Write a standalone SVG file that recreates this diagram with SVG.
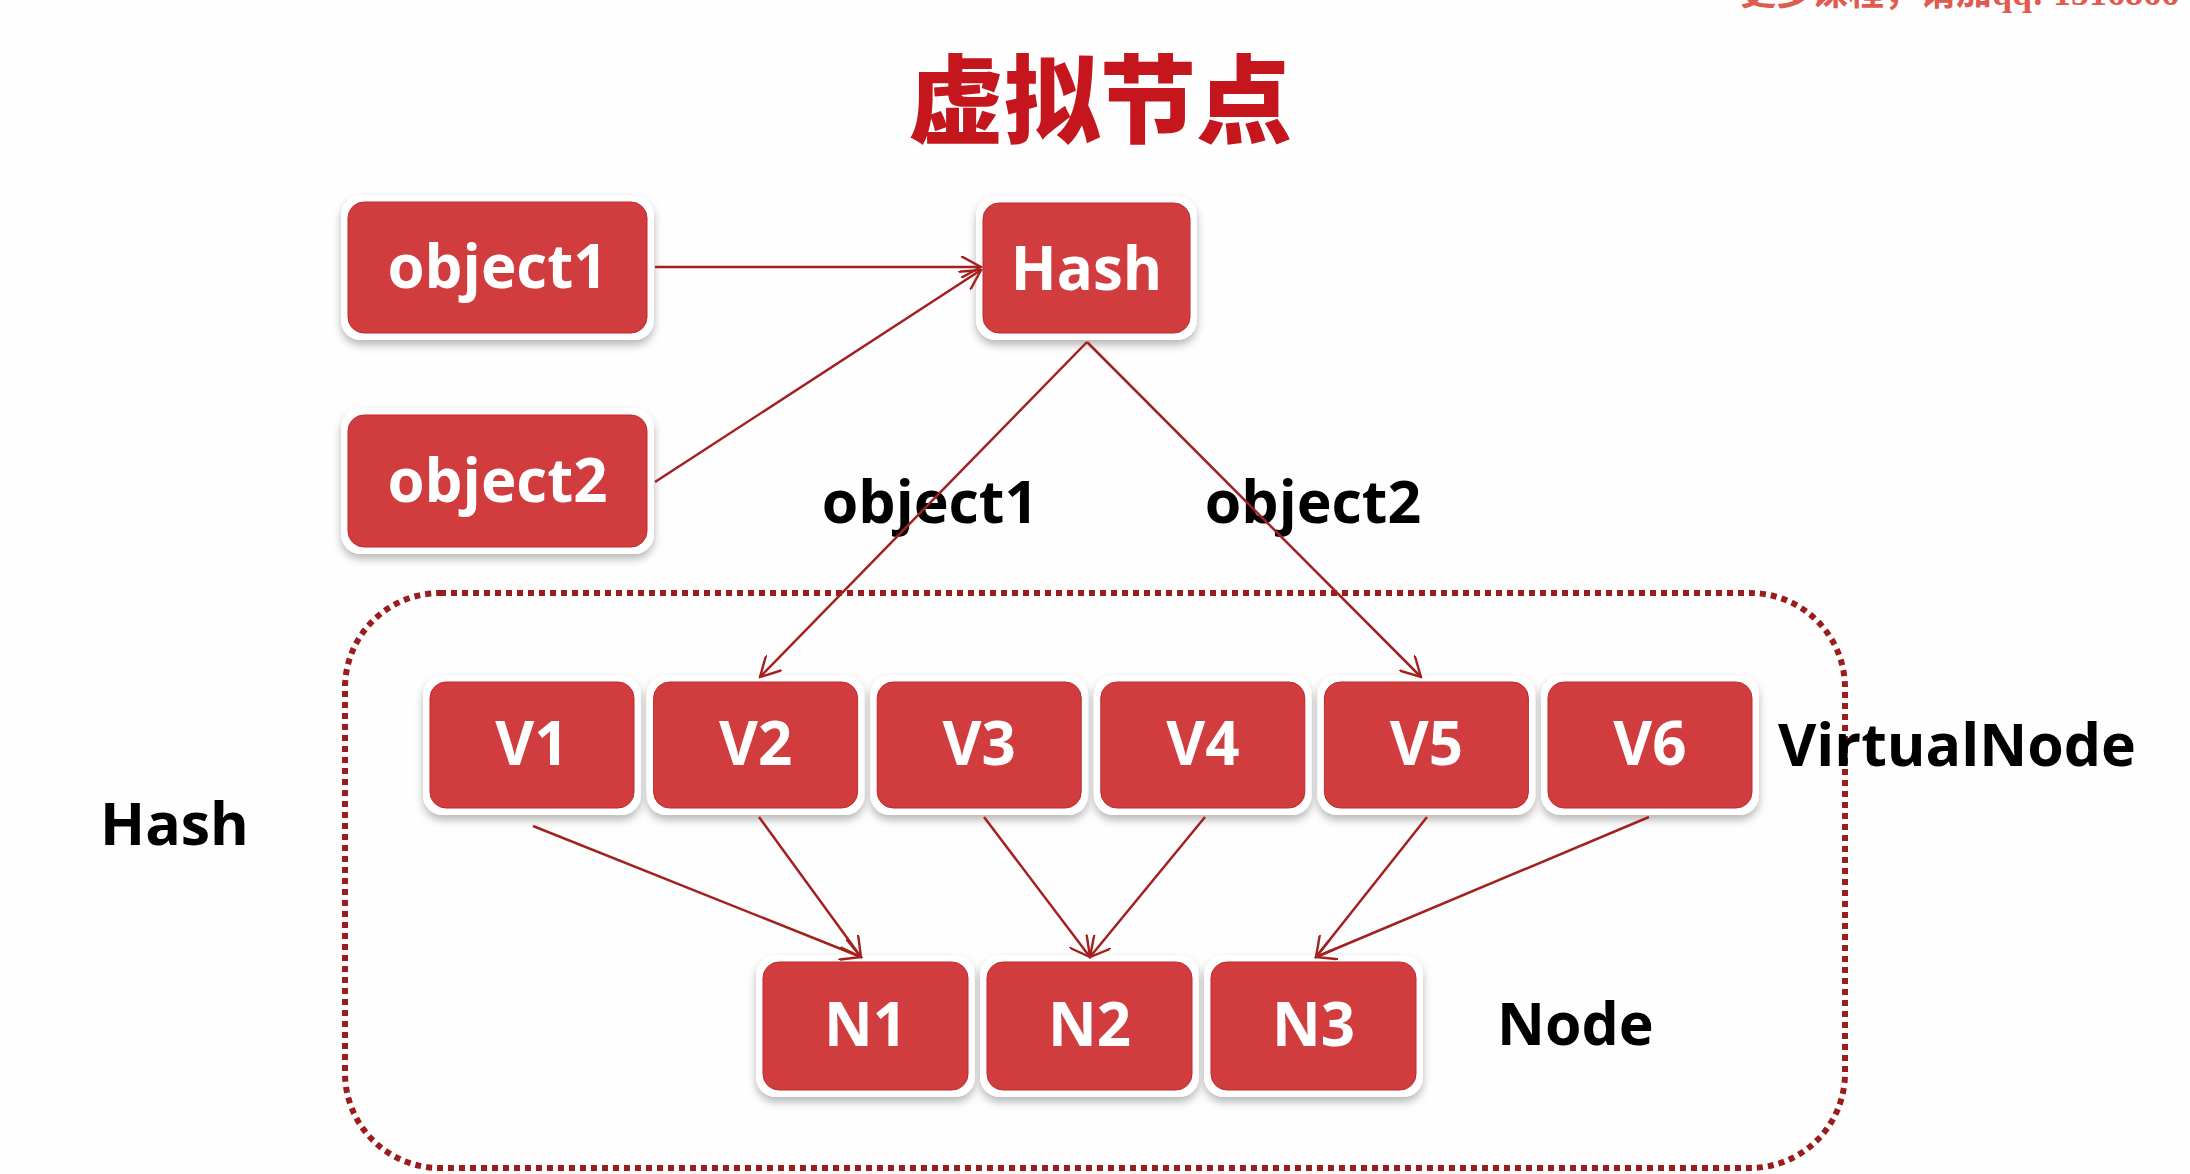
<svg xmlns="http://www.w3.org/2000/svg" width="2190" height="1174" viewBox="0 0 2190 1174">
<defs>
<style>
.bg{fill:#fefefe}
.halo{fill:#ffffff;filter:url(#shadow)}
.box{fill:#d13c3f;stroke:#c0292c;stroke-width:1}
.in{font-family:"Open Sans","Noto Sans","Liberation Sans",sans-serif;font-weight:700;font-size:60px;fill:#ffffff;text-anchor:middle}
.lbl{font-family:"Open Sans","Noto Sans","Liberation Sans",sans-serif;font-weight:700;font-size:59px;fill:#000000}
.title{font-family:"Noto Sans CJK SC",sans-serif;font-weight:900;font-size:96px;fill:#c4161c;text-anchor:middle}
.wm{font-family:"Liberation Serif","Noto Sans CJK SC",serif;font-weight:700;font-size:36px;fill:#e05a50}
.conn line{stroke:#a3201f;stroke-width:2.5;fill:none;marker-end:url(#arr)}
.frame{fill:none;stroke:#9b1c1c;stroke-width:6;stroke-dasharray:6 5}
</style>
<filter id="shadow" x="-20%" y="-20%" width="140%" height="150%">
<feDropShadow dx="0" dy="5" stdDeviation="4" flood-color="#000000" flood-opacity="0.28"/>
</filter>
<marker id="arr" viewBox="0 0 12 12" refX="11" refY="6" markerWidth="22" markerHeight="22" markerUnits="userSpaceOnUse" orient="auto">
<path d="M0,0 L11,6 L0,12" fill="none" stroke="#a3201f" stroke-width="1.3"/>
</marker>
</defs>
<rect class="bg" x="0" y="0" width="2190" height="1174"/>
<text class="wm" x="1740" y="5">更多课程，请加qq: 1516866</text>
<text class="title" x="1100" y="135">虚拟节点</text>

<rect id="container" class="frame" x="345" y="593" width="1500" height="575" rx="95" ry="95"/>

<g id="object1"><rect class="halo" x="341" y="195" width="313" height="145" rx="20"/><rect class="box" x="348" y="202" width="299" height="131" rx="16"/><text class="in" x="497.5" y="288">object1</text></g>
<g id="object2"><rect class="halo" x="341" y="408" width="313" height="146" rx="20"/><rect class="box" x="348" y="415" width="299" height="132" rx="16"/><text class="in" x="497.5" y="502">object2</text></g>
<g id="hash"><rect class="halo" x="976" y="196" width="221" height="144" rx="20"/><rect class="box" x="983" y="203" width="207" height="130" rx="16"/><text class="in" x="1086.5" y="290">Hash</text></g>

<g id="v1"><rect class="halo" x="423" y="675" width="218" height="140" rx="20"/><rect class="box" x="430" y="682" width="204" height="126" rx="16"/><text class="in" x="532" y="765">V1</text></g>
<g id="v2"><rect class="halo" x="646.6" y="675" width="218" height="140" rx="20"/><rect class="box" x="653.6" y="682" width="204" height="126" rx="16"/><text class="in" x="755.6" y="765">V2</text></g>
<g id="v3"><rect class="halo" x="870.2" y="675" width="218" height="140" rx="20"/><rect class="box" x="877.2" y="682" width="204" height="126" rx="16"/><text class="in" x="979.2" y="765">V3</text></g>
<g id="v4"><rect class="halo" x="1093.8" y="675" width="218" height="140" rx="20"/><rect class="box" x="1100.8" y="682" width="204" height="126" rx="16"/><text class="in" x="1202.8" y="765">V4</text></g>
<g id="v5"><rect class="halo" x="1317.4" y="675" width="218" height="140" rx="20"/><rect class="box" x="1324.4" y="682" width="204" height="126" rx="16"/><text class="in" x="1426.4" y="765">V5</text></g>
<g id="v6"><rect class="halo" x="1541" y="675" width="218" height="140" rx="20"/><rect class="box" x="1548" y="682" width="204" height="126" rx="16"/><text class="in" x="1650" y="765">V6</text></g>

<g id="n1"><rect class="halo" x="756" y="955" width="219" height="142" rx="20"/><rect class="box" x="763" y="962" width="205" height="128" rx="16"/><text class="in" x="865.5" y="1046">N1</text></g>
<g id="n2"><rect class="halo" x="980" y="955" width="219" height="142" rx="20"/><rect class="box" x="987" y="962" width="205" height="128" rx="16"/><text class="in" x="1089.5" y="1046">N2</text></g>
<g id="n3"><rect class="halo" x="1204" y="955" width="219" height="142" rx="20"/><rect class="box" x="1211" y="962" width="205" height="128" rx="16"/><text class="in" x="1313.5" y="1046">N3</text></g>

<g id="labels">
<text class="lbl" x="930" y="523" text-anchor="middle">object1</text>
<text class="lbl" x="1313" y="523" text-anchor="middle">object2</text>
<text class="lbl" x="1778" y="766">VirtualNode</text>
<text class="lbl" x="100" y="845">Hash</text>
<text class="lbl" x="1497" y="1045">Node</text>
</g>

<g id="connectors" class="conn">
<line x1="655" y1="267" x2="981" y2="267"/>
<line x1="655" y1="482" x2="981" y2="270"/>
<line x1="1087" y1="342" x2="760" y2="677"/>
<line x1="1087" y1="342" x2="1421" y2="677"/>
<line x1="533" y1="826" x2="861" y2="957"/>
<line x1="759" y1="817" x2="861" y2="957"/>
<line x1="984" y1="817" x2="1090" y2="957"/>
<line x1="1205" y1="817" x2="1090" y2="957"/>
<line x1="1427" y1="817" x2="1316" y2="957"/>
<line x1="1649" y1="817" x2="1316" y2="957"/>
</g>
</svg>
